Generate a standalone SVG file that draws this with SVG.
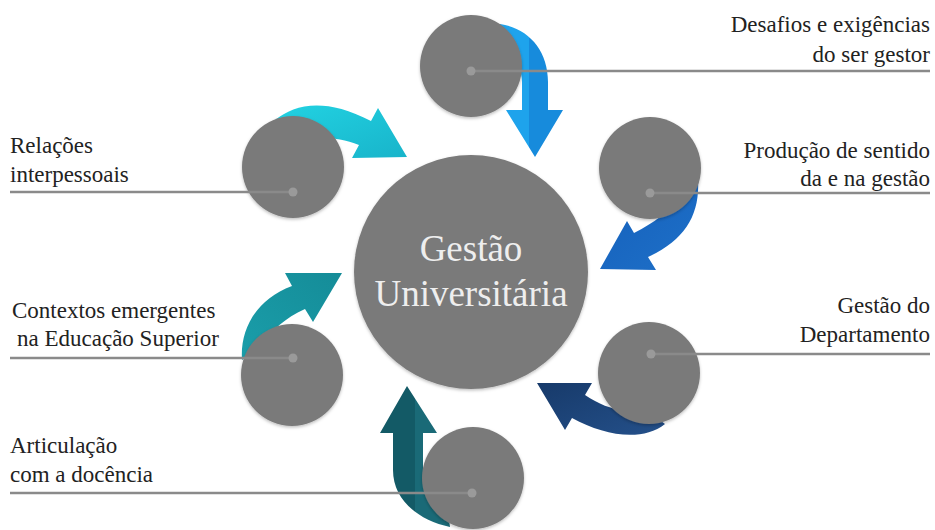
<svg xmlns="http://www.w3.org/2000/svg" width="935" height="530" viewBox="0 0 935 530">
<style>
.c{fill:#7a7a7a;filter:url(#sh)}
.dot{fill:#9a9a9a}
.ld{stroke:#8a8a8a;stroke-width:2.5;fill:none}
.t{font-size:23px;fill:#222}
.ct{font-size:37px;fill:#eeeeee;text-anchor:middle}
.r{text-anchor:end}
</style>
<defs>
<filter id="sh" x="-20%" y="-20%" width="140%" height="140%">
<feDropShadow dx="0" dy="1.5" stdDeviation="1.5" flood-color="#000" flood-opacity="0.25"/>
</filter>
<linearGradient id="g1" x1="0" y1="0" x2="1" y2="0"><stop offset="0.5" stop-color="#1ea3ec"/><stop offset="0.5" stop-color="#178bdc"/></linearGradient>
<linearGradient id="g2" x1="0" y1="0" x2="1" y2="1"><stop offset="0" stop-color="#1560bb"/><stop offset="1" stop-color="#1e70c8"/></linearGradient>
<linearGradient id="g3" x1="0" y1="0" x2="1" y2="1"><stop offset="0" stop-color="#173a6a"/><stop offset="1" stop-color="#24508a"/></linearGradient>
<linearGradient id="g4" x1="0" y1="0" x2="1" y2="0"><stop offset="0.5" stop-color="#135a66"/><stop offset="0.5" stop-color="#1a6a77"/></linearGradient>
<linearGradient id="g5" x1="0" y1="1" x2="1" y2="0"><stop offset="0" stop-color="#1a9eaa"/><stop offset="1" stop-color="#158c98"/></linearGradient>
<linearGradient id="g6" x1="0" y1="0" x2="1" y2="1"><stop offset="0" stop-color="#22d2e2"/><stop offset="1" stop-color="#18b4ca"/></linearGradient>
</defs>
<rect width="935" height="530" fill="#ffffff"/>

<g id="connectors">
<path fill="url(#g1)" d="M 500 24 C 528 28 548 50 548 82 L 548 110 L 563 110 L 535 157 L 506 110 L 522 110 L 522 82 C 522 66 512 56 495 48 Z"/>
<path fill="url(#g2)" d="M 698 180 C 700 215 685 240 648 257 L 656 270 L 600 269 L 627 221 L 634 233 C 655 222 670 212 676 195 Z"/>
<path fill="url(#g3)" d="M 665 424 C 642 442 605 436 572 418 L 565 430 L 537 383 L 592 383 L 585 395 C 605 408 625 415 640 405 Z"/>
<path fill="url(#g4)" d="M 407 386 L 437 433 L 423 433 L 423 470 C 423 492 432 505 448 512 L 450 527 C 418 520 393 500 393 470 L 393 433 L 380 433 Z"/>
<path fill="url(#g5)" d="M 342 273 L 313 322 L 305 309 C 285 318 272 330 262 345 L 242 360 C 240 330 255 300 292 286 L 285 273 Z"/>
<path fill="url(#g6)" d="M 407 157 L 352 158 L 359 145 C 340 138 320 135 300 140 L 275 120 C 295 104 325 97 371 121 L 378 108 Z"/>
</g>

<g font-family="Liberation Serif, Times New Roman, serif">
<g id="center">
<circle class="c" cx="471" cy="272" r="117"/>
<text class="ct" x="471" y="261">Gestão</text>
<text class="ct" x="471" y="306">Universitária</text>
</g>

<g id="n-desafios">
<circle class="c" cx="471" cy="66" r="51"/>
<line class="ld" x1="471" y1="71" x2="930" y2="71"/>
<circle class="dot" cx="471" cy="71" r="4.5"/>
<text class="t r" x="930" y="32">Desafios e exigências</text>
<text class="t r" x="930" y="62">do ser gestor</text>
</g>

<g id="n-producao">
<circle class="c" cx="650" cy="168" r="51"/>
<line class="ld" x1="650" y1="193" x2="930" y2="193"/>
<circle class="dot" cx="650" cy="193" r="4.5"/>
<text class="t r" x="930" y="158">Produção de sentido</text>
<text class="t r" x="930" y="186">da e na gestão</text>
</g>

<g id="n-departamento">
<circle class="c" cx="649" cy="373" r="51"/>
<line class="ld" x1="651" y1="354" x2="930" y2="354"/>
<circle class="dot" cx="651" cy="354" r="4.5"/>
<text class="t r" x="930" y="313">Gestão do</text>
<text class="t r" x="930" y="342">Departamento</text>
</g>

<g id="n-docencia">
<circle class="c" cx="473" cy="478" r="51"/>
<line class="ld" x1="10" y1="493" x2="472" y2="493"/>
<circle class="dot" cx="472" cy="493" r="4.5"/>
<text class="t" x="10" y="453">Articulação</text>
<text class="t" x="10" y="482">com a docência</text>
</g>

<g id="n-contextos">
<circle class="c" cx="292" cy="375" r="51"/>
<line class="ld" x1="10" y1="358" x2="293" y2="358"/>
<circle class="dot" cx="293" cy="358" r="4.5"/>
<text class="t" x="12" y="318">Contextos emergentes</text>
<text class="t" x="17" y="346">na Educação Superior</text>
</g>

<g id="n-relacoes">
<circle class="c" cx="293" cy="167" r="51"/>
<line class="ld" x1="10" y1="192" x2="293" y2="192"/>
<circle class="dot" cx="293" cy="192" r="4.5"/>
<text class="t" x="10" y="153">Relações</text>
<text class="t" x="10" y="182">interpessoais</text>
</g>
</g>
</svg>
